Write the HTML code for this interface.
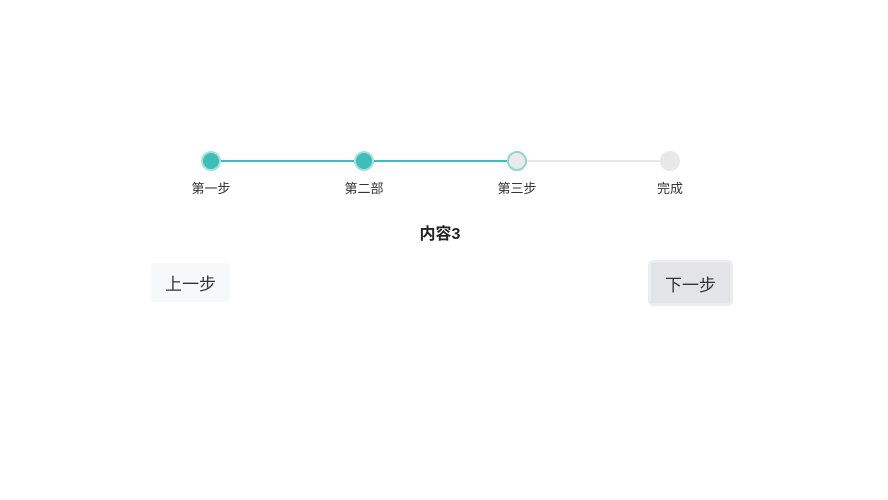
<!DOCTYPE html>
<html><head><meta charset="utf-8"><style>
body{margin:0;width:888px;height:500px;background:#fff;position:relative;font-family:"Liberation Sans","Noto Sans CJK SC",sans-serif;overflow:hidden}
.a{position:absolute}
.line{position:absolute;height:2px;top:160px}
.dot{position:absolute;width:16px;height:16px;border-radius:50%;top:151px;border:2px solid}
.lbl{position:absolute;top:178px;font-size:13px;color:#333;width:80px;text-align:center}
.btn{position:absolute;font-size:17px;color:#333;text-align:center;border-radius:4px}
</style></head><body>
<div class="line" style="left:211px;width:306px;background:#3bbfb8"></div>
<div class="line" style="left:517px;width:153px;background:#e8e8e8"></div>
<div class="dot" style="left:201px;background:#3bbfb8;border-color:#a6e1dd"></div>
<div class="dot" style="left:354px;background:#3bbfb8;border-color:#a6e1dd"></div>
<div class="dot" style="left:507px;background:#eaeaea;border-color:#8fd6d1"></div>
<div class="dot" style="left:660px;background:#e8e8e8;border-color:#e8e8e8"></div>
<div class="lbl" style="left:171px">第一步</div>
<div class="lbl" style="left:324px">第二部</div>
<div class="lbl" style="left:477px">第三步</div>
<div class="lbl" style="left:630px">完成</div>
<div class="a" style="left:380px;width:120px;top:220px;text-align:center;font-weight:bold;font-size:16px;color:#222">内容3</div>
<div class="btn" style="left:151px;top:263px;width:79px;height:39px;line-height:44px;background:#f7f8fa">上一步</div>
<div class="btn" style="left:648px;top:260px;width:79px;height:40px;line-height:45px;background:#e2e4e8;border:3px solid #ebecef;border-radius:5px">下一步</div>
</body></html>
